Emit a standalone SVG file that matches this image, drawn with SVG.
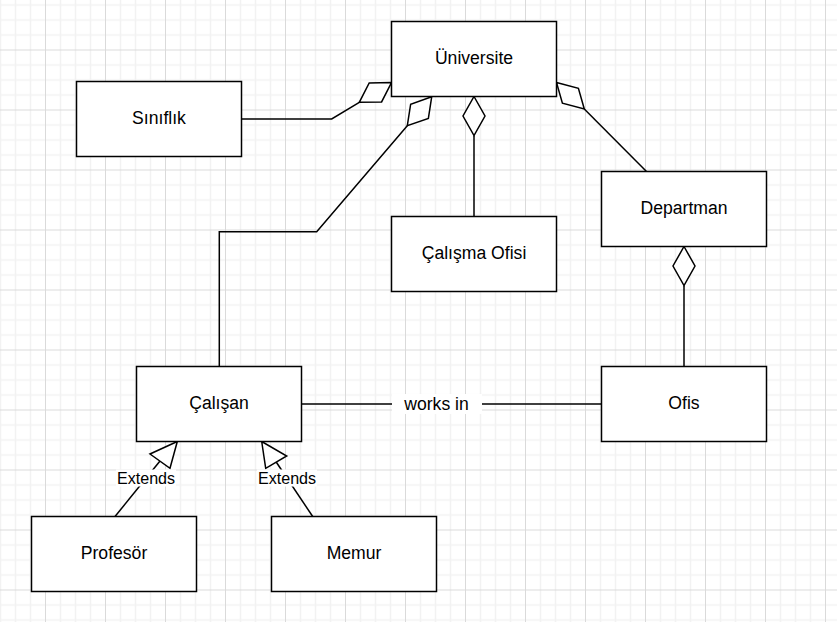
<svg xmlns="http://www.w3.org/2000/svg" width="837" height="622" viewBox="0 0 837 622">
<style>
.box{fill:#fff;stroke:#000;stroke-width:1.5}
.lbl{font-family:"Liberation Sans",Arial,sans-serif;font-size:17.6px;fill:#000;text-anchor:middle}
.elbl{font-family:"Liberation Sans",Arial,sans-serif;font-size:16.1px;fill:#000;text-anchor:middle}
.edge{fill:none;stroke:#000;stroke-width:1.5}
.head{fill:#fff;stroke:#000;stroke-width:1.5;stroke-linejoin:miter}
.lblbg{fill:#fff;stroke:none}
</style>
<defs>
<pattern id="grid" patternUnits="userSpaceOnUse" x="45" y="49.5" width="60" height="60">
<path d="M15.5 0V60M30.5 0V60M45.5 0V60M0 15.5H60M0 30.5H60M0 45.5H60" stroke="#f2f2f2" stroke-width="1.5" fill="none"/>
<path d="M0.5 0V60M0 0.5H60" stroke="#dadada" stroke-width="1" fill="none"/>
</pattern>
</defs>
<rect x="0" y="0" width="837" height="622" fill="#fff"/>
<rect x="0" y="0" width="837" height="622" fill="url(#grid)"/>

<g id="connectors">
<polyline class="edge" points="241.5,119 331.7,119 359.3,102.3"/>
<polygon class="head" points="391.5,82.5 369.2,82.9 359.3,102.3 381.6,101.9"/>
<polyline class="edge" points="219.3,366.5 219.3,231.7 316.7,231.7 407.3,125.7"/>
<polygon class="head" points="431.7,96.8 410.65,104.2 407.3,125.7 428.35,118.5"/>
<line class="edge" x1="474" y1="135.5" x2="474" y2="216.5"/>
<polygon class="head" points="474,96.5 485,116 474,135.5 463,116"/>
<line class="edge" x1="584.3" y1="109" x2="646.5" y2="171.5"/>
<polygon class="head" points="556.5,82.5 578.4,88.25 584.3,109 562.4,103.25"/>
<line class="edge" x1="684" y1="285.5" x2="684" y2="366.5"/>
<polygon class="head" points="684,246.5 695,266 684,285.5 673,266"/>
<line class="edge" x1="301.5" y1="404" x2="601.5" y2="404"/>
<rect class="lblbg" x="392" y="394" width="90" height="20"/>
<text class="lbl" x="436.5" y="409.5">works in</text>
<line class="edge" x1="160" y1="461" x2="115" y2="516.5"/>
<polygon class="head" points="177.3,441.5 150,454 170,468.3"/>
<rect class="lblbg" x="116" y="469.5" width="60" height="17"/>
<text class="elbl" x="146" y="484">Extends</text>
<line class="edge" x1="276.2" y1="462" x2="312.7" y2="516.5"/>
<polygon class="head" points="261.7,441.5 265.7,468.3 286.7,456"/>
<rect class="lblbg" x="257" y="469.5" width="60" height="17"/>
<text class="elbl" x="287" y="484">Extends</text>
</g>

<g id="universite">
<rect class="box" x="391.5" y="21.5" width="165" height="75"/>
<text class="lbl" x="474" y="64">Üniversite</text>
</g>
<g id="siniflik">
<rect class="box" x="76.5" y="81.5" width="165" height="75"/>
<text class="lbl" x="159" y="124">Sınıflık</text>
</g>
<g id="calisma-ofisi">
<rect class="box" x="391.5" y="216.5" width="165" height="75"/>
<text class="lbl" x="474" y="259">Çalışma Ofisi</text>
</g>
<g id="departman">
<rect class="box" x="601.5" y="171.5" width="165" height="75"/>
<text class="lbl" x="684" y="214">Departman</text>
</g>
<g id="calisan">
<rect class="box" x="136.5" y="366.5" width="165" height="75"/>
<text class="lbl" x="219" y="409">Çalışan</text>
</g>
<g id="ofis">
<rect class="box" x="601.5" y="366.5" width="165" height="75"/>
<text class="lbl" x="684" y="409">Ofis</text>
</g>
<g id="profesor">
<rect class="box" x="31.5" y="516.5" width="165" height="75"/>
<text class="lbl" x="114" y="559">Profesör</text>
</g>
<g id="memur">
<rect class="box" x="271.5" y="516.5" width="165" height="75"/>
<text class="lbl" x="354" y="559">Memur</text>
</g>
</svg>
